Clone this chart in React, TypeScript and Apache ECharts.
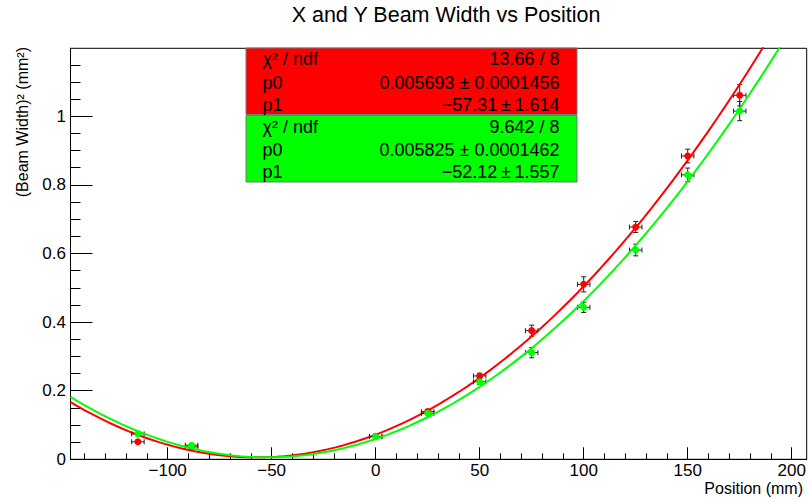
import React, { useEffect, useRef } from "react";
import * as echarts from "echarts";

// Measured beam widths (squared) at each position along the beam line
const positions = [-114.3, -88.5, 0, 25, 50, 75, 100, 125, 150, 175];
const positionErr = [3, 3, 3, 3, 3, 3, 3, 3, 3, 3];
const widthSqX = [0.051, 0.036, 0.067, 0.139, 0.243, 0.375, 0.51, 0.677, 0.884, 1.061];
const widthSqXErr = [0.004, 0.003, 0.004, 0.006, 0.008, 0.016, 0.022, 0.016, 0.02, 0.031];
const widthSqY = [0.074, 0.041, 0.066, 0.134, 0.226, 0.311, 0.443, 0.61, 0.829, 1.015];
const widthSqYErr = [0.004, 0.004, 0.004, 0.006, 0.008, 0.015, 0.015, 0.017, 0.02, 0.028];

// Fit results: w^2(z) = p0 * (1 + ((z - p1) / zR)^2), zR = pi * p0 / lambda
const fitX = { p0: 0.005693, p0Err: 0.0001456, p1: -57.31, p1Err: 1.614, chi2: "13.66", ndf: 8 };
const fitY = { p0: 0.005825, p0Err: 0.0001462, p1: -52.12, p1Err: 1.557, chi2: "9.642", ndf: 8 };
const WAVELENGTH_MM = 1.064e-3;

const xMajorTicks = [-100, -50, 0, 50, 100, 150, 200];
const yMajorTicks = [0, 0.2, 0.4, 0.6, 0.8, 1.0];

const X_MIN = -146.7;
const X_MAX = 207.2;
const Y_MIN = 0;
const Y_MAX = 1.198;

const FONT = "'Liberation Sans', Arial, Helvetica, sans-serif";

function minorTicks(min: number, max: number, step: number, majors: number[]) {
  const out: number[] = [];
  const start = Math.ceil(min / step);
  const end = Math.floor(max / step);
  for (let i = start; i <= end; i++) {
    const v = +(i * step).toFixed(6);
    if (!majors.some((m) => Math.abs(m - v) < 1e-9)) out.push(v);
  }
  return out;
}

function fitCurve(fit: { p0: number; p1: number }) {
  const zR = (Math.PI * fit.p0) / WAVELENGTH_MM;
  const n = 100;
  const pts: number[][] = [];
  for (let i = 0; i <= n; i++) {
    const z = X_MIN + ((X_MAX - X_MIN) * i) / n;
    const d = (z - fit.p1) / zR;
    pts.push([z, fit.p0 * (1 + d * d)]);
  }
  return pts;
}

function errorBarData(xs: number[], xe: number[], ys: number[], ye: number[]) {
  return xs.map((x, i) => [x, ys[i], xe[i], ye[i]]);
}

function renderErrorBar(params: any, api: any) {
  const x = api.value(0);
  const y = api.value(1);
  const ex = api.value(2);
  const ey = api.value(3);
  const l = api.coord([x - ex, y]);
  const r = api.coord([x + ex, y]);
  const t = api.coord([x, y + ey]);
  const b = api.coord([x, y - ey]);
  const c = 2.5;
  const style = { stroke: "#222", lineWidth: 1 };
  const seg = (x1: number, y1: number, x2: number, y2: number) => ({
    type: "line",
    shape: { x1, y1, x2, y2 },
    style,
  });
  return {
    type: "group",
    children: [
      seg(l[0], l[1], r[0], r[1]),
      seg(l[0], l[1] - c, l[0], l[1] + c),
      seg(r[0], r[1] - c, r[0], r[1] + c),
      seg(t[0], t[1], b[0], b[1]),
      seg(t[0] - c, t[1], t[0] + c, t[1]),
      seg(b[0] - c, b[1], b[0] + c, b[1]),
    ],
  };
}

function fmtMinus(v: number) {
  return String(v).replace("-", "\u2212");
}

function statsBox(top: number, fill: string, fit: typeof fitX) {
  const left = 246;
  const width = 331;
  const height = 66.5;
  const textStyle = { fill: "#000", fontSize: 18, fontFamily: FONT, verticalAlign: "middle" };
  const rows = [
    ["\u03c7\u00b2 / ndf", `${fit.chi2} / ${fit.ndf}`],
    ["p0", `${fit.p0.toFixed(6)} \u00b1 ${fit.p0Err.toFixed(7)}`],
    ["p1", `${fmtMinus(fit.p1)}\u2009\u00b1\u2009${fit.p1Err.toFixed(3)}`],
  ];
  const rowY = [top + 11, top + 34.5, top + 56.5];
  const children: any[] = [
    {
      type: "rect",
      shape: { x: left, y: top, width, height },
      style: { fill, stroke: "#777", lineWidth: 1 },
    },
  ];
  rows.forEach((row, i) => {
    children.push({
      type: "text",
      x: 262.5,
      y: rowY[i],
      style: { ...textStyle, text: row[0], align: "left" },
    });
    children.push({
      type: "text",
      x: 559.5,
      y: rowY[i],
      style: { ...textStyle, text: row[1], align: "right" },
    });
  });
  return { type: "group", children };
}

export default function App() {
  const ref = useRef<HTMLDivElement>(null);

  useEffect(() => {
    if (!ref.current) return;
    const chart = echarts.init(ref.current, undefined, { renderer: "svg" });

    const xMinor = minorTicks(X_MIN, X_MAX, 10, xMajorTicks);
    const yMinor = minorTicks(Y_MIN, Y_MAX, 0.05, yMajorTicks);

    const axisLineStyle = { color: "#000", width: 1 };
    const labelStyle = { color: "#000", fontSize: 17, fontFamily: FONT };

    const option: any = {
      animation: false,
      backgroundColor: "#fff",
      grid: {
        left: 70.5,
        right: 1.3,
        top: 48.3,
        bottom: 42.7,
        show: true,
        borderColor: "#000",
        borderWidth: 1,
        containLabel: false,
        outerBoundsMode: "none",
      },
      xAxis: [
        {
          type: "value",
          min: X_MIN,
          max: X_MAX,
          axisLine: { show: true, onZero: false, lineStyle: axisLineStyle },
          splitLine: { show: false },
          axisTick: { show: true, inside: true, length: 12, lineStyle: axisLineStyle, customValues: xMajorTicks },
          axisLabel: {
            ...labelStyle,
            margin: 3,
            customValues: xMajorTicks,
            formatter: (v: number) => fmtMinus(v),
          },
        },
        {
          type: "value",
          min: X_MIN,
          max: X_MAX,
          position: "bottom",
          axisLine: { show: false, onZero: false },
          splitLine: { show: false },
          axisTick: { show: true, inside: true, length: 6, lineStyle: axisLineStyle, customValues: xMinor },
          axisLabel: { show: false },
        },
      ],
      yAxis: [
        {
          type: "value",
          min: Y_MIN,
          max: Y_MAX,
          axisLine: { show: true, onZero: false, lineStyle: axisLineStyle },
          splitLine: { show: false },
          axisTick: { show: true, inside: true, length: 22, lineStyle: axisLineStyle, customValues: yMajorTicks },
          axisLabel: {
            ...labelStyle,
            margin: 4.5,
            customValues: yMajorTicks,
            formatter: (v: number) => String(+v.toFixed(2)),
          },
        },
        {
          type: "value",
          min: Y_MIN,
          max: Y_MAX,
          position: "left",
          axisLine: { show: false, onZero: false },
          splitLine: { show: false },
          axisTick: { show: true, inside: true, length: 10, lineStyle: axisLineStyle, customValues: yMinor },
          axisLabel: { show: false },
        },
      ],
      series: [
        {
          name: "X errors",
          type: "custom",
          xAxisIndex: 0,
          yAxisIndex: 0,
          renderItem: renderErrorBar,
          encode: { x: 0, y: 1 },
          data: errorBarData(positions, positionErr, widthSqX, widthSqXErr),
          z: 2,
        },
        {
          name: "X width",
          type: "scatter",
          symbol: "circle",
          symbolSize: 7,
          itemStyle: { color: "#ff0000", opacity: 1 },
          data: positions.map((x, i) => [x, widthSqX[i]]),
          z: 3,
        },
        {
          name: "X fit",
          type: "line",
          showSymbol: false,
          symbol: "none",
          clip: true,
          lineStyle: { color: "#ff0000", width: 2 },
          data: fitCurve(fitX),
          z: 4,
        },
        {
          name: "Y errors",
          type: "custom",
          xAxisIndex: 0,
          yAxisIndex: 0,
          renderItem: renderErrorBar,
          encode: { x: 0, y: 1 },
          data: errorBarData(positions, positionErr, widthSqY, widthSqYErr),
          z: 5,
        },
        {
          name: "Y width",
          type: "scatter",
          symbol: "circle",
          symbolSize: 7,
          itemStyle: { color: "#00ff00", opacity: 1 },
          data: positions.map((x, i) => [x, widthSqY[i]]),
          z: 6,
        },
        {
          name: "Y fit",
          type: "line",
          showSymbol: false,
          symbol: "none",
          clip: true,
          lineStyle: { color: "#00ff00", width: 2 },
          data: fitCurve(fitY),
          z: 7,
        },
      ],
      graphic: [
        {
          type: "text",
          x: 446,
          y: 15,
          style: {
            text: "X and Y Beam Width vs Position",
            fill: "#000",
            fontSize: 21.5,
            fontFamily: FONT,
            align: "center",
            verticalAlign: "middle",
          },
        },
        {
          type: "text",
          x: 803,
          y: 488,
          style: {
            text: "Position (mm)",
            fill: "#000",
            fontSize: 16,
            fontFamily: FONT,
            align: "right",
            verticalAlign: "middle",
          },
        },
        {
          type: "text",
          x: 22,
          y: 47,
          rotation: Math.PI / 2,
          style: {
            text: "(Beam Width)\u00b2 (mm\u00b2)",
            fill: "#000",
            fontSize: 16,
            fontFamily: FONT,
            align: "right",
            verticalAlign: "middle",
          },
        },
        statsBox(48, "#ff0000", fitX),
        statsBox(115.5, "#00ff00", fitY),
      ],
    };

    chart.setOption(option);
    return () => chart.dispose();
  }, []);

  return (
    <div
      ref={ref}
      style={{ position: "fixed", left: 0, top: 0, width: 808, height: 502 }}
    />
  );
}
